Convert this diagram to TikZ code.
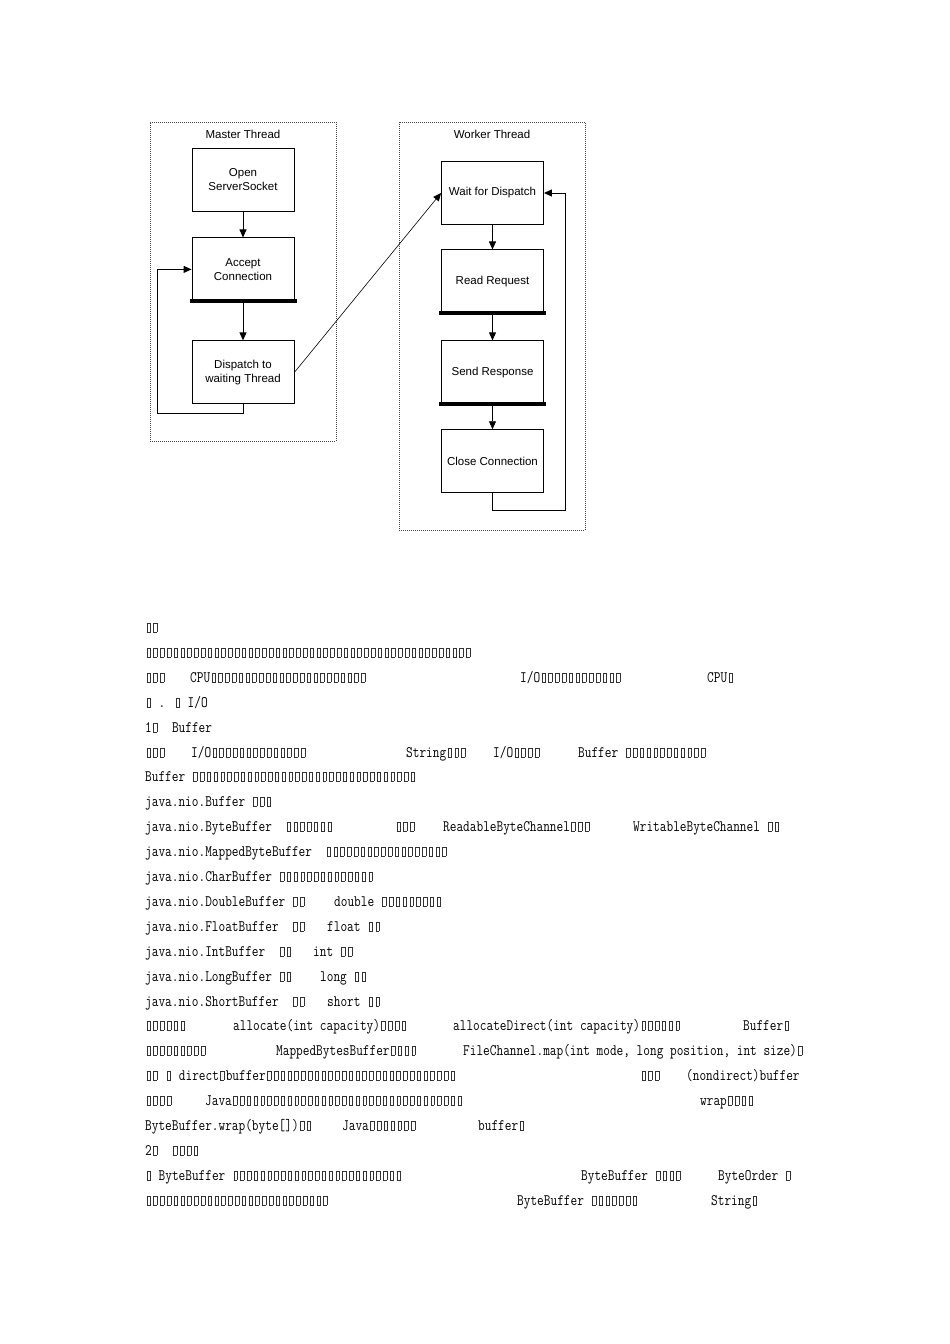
\documentclass[tikz,border=0pt]{standalone}
\usepackage{fontspec}
\setmainfont{Liberation Sans}
\newfontfamily\cnmono[FakeStretch=0.81]{Latin Modern Mono}
\usetikzlibrary{positioning,calc,arrows.meta}

% missing glyph box, one half-width cell
\newcommand\tofu{\makebox[6.8pt]{\color{black!80}\setlength{\fboxsep}{0pt}\setlength{\fboxrule}{0.45pt}\fbox{\rule{3pt}{0pt}\rule{0pt}{9pt}}}}
\newcommand\tofus[1]{\foreach \n in {1,...,#1}{\tofu}}

\begin{document}
\begin{tikzpicture}[
    x=1pt,y=-1pt,
    font=\fontsize{11.5}{14}\selectfont,
    >={Triangle[length=8pt,width=7pt]}
  ]
\useasboundingbox (0,0) rectangle (950,1344);
\def\bw{102pt}
\def\bh{63pt}

\tikzstyle{stage}=[draw,line width=0.9pt,minimum width=\bw,minimum height=\bh,align=center,inner sep=2pt,node distance=25pt];
\tikzstyle{thread}=[draw=black!75,line width=0.7pt,dash pattern=on 1pt off 1pt,minimum width=186pt];
\tikzstyle{bar}=[line width=4pt];
\tikzstyle{txt}=[anchor=base west,inner sep=0pt,font=\cnmono\fontsize{16}{16}\selectfont];

% master side
\node[thread,minimum height=319pt] (master) at (243,281.5) {};
\node (mastert) at (243,134) {Master Thread};
\node[stage] at (243,179.5) (open) {Open\\ServerSocket};
\node[stage,below=26pt of open] (accept) {Accept\\Connection};
\node[stage,below=39pt of accept] (dispatch) {Dispatch to\\waiting Thread};
\draw[bar] ($ (accept.south west) + (-2,0) $) -- ($ (accept.south east) + (3,0) $);

\draw[->,line width=0.9pt] (open) -- (accept);
\draw[->,line width=0.9pt] (accept) -- (dispatch);
\coordinate (mloop) at (157,413);
\draw[->,line width=0.9pt] (dispatch.south) |- (mloop) |- (accept.west);

% worker side
\node[thread,minimum height=408pt] (worker) at (492,326) {};
\node (workert) at (492,134) {Worker Thread};
\node[stage] at (492.5,193) (wait) {Wait for Dispatch};
\node[stage,below=24.5pt of wait] (read) {Read Request};
\node[stage,below=27pt of read] (send) {Send Response};
\node[stage,below= of send] (close) {Close Connection};
\draw[bar] ($ (read.south west) + (-2,0) $) -- ($ (read.south east) + (2,0) $);
\draw[bar] ($ (send.south west) + (-2,0) $) -- ($ (send.south east) + (2,0) $);

\draw[->,line width=0.9pt] (wait) -- (read);
\draw[->,line width=0.9pt] (read) -- (send);
\draw[->,line width=0.9pt] (send) -- (close);
\coordinate (wloop) at (565,510);
\draw[->,line width=0.9pt] (close.south) |- (wloop) |- (wait.east);

\draw[->,line width=0.6pt] (dispatch.east) -- (wait.west);

% page text
\node[txt] (l1) at (145,632) {\tofus{2}};
\node[txt] (l2) at (145,657) {\tofus{48}};
\node[txt] (l3a) at (145,682) {\tofus{3}};
\node[txt] (l3b) at (190,682) {CPU\tofus{23}};
\node[txt] (l3c) at (520,682) {I/O\tofus{12}};
\node[txt] (l3d) at (707,682) {CPU\tofu};
\node[txt] (l4) at (145,707) {\tofu{} . \tofu{} I/O};
\node[txt] (l5) at (145,732) {1\tofu{}~ Buffer};
\node[txt] (l6a) at (145,757) {\tofus{3}};
\node[txt] (l6b) at (191,757) {I/O\tofus{14}};
\node[txt] (l6c) at (406,757) {String\tofus{3}};
\node[txt] (l6d) at (493,757) {I/O\tofus{4}};
\node[txt] (l6e) at (578,757) {Buffer \tofus{12}};
\node[txt] (l7) at (145,781) {Buffer \tofus{33}};
\node[txt] (l8) at (145,806) {java.nio.Buffer \tofus{3}};
\node[txt] (l9a) at (145,831) {java.nio.ByteBuffer~ \tofus{7}};
\node[txt] (l9b) at (395,831) {\tofus{3}};
\node[txt] (l9c) at (443,831) {ReadableByteChannel\tofus{3}};
\node[txt] (l9d) at (633,831) {WritableByteChannel \tofus{2}};
\node[txt] (l10) at (145,856) {java.nio.MappedByteBuffer~ \tofus{18}};
\node[txt] (l11) at (145,881) {java.nio.CharBuffer \tofus{14}};
\node[txt] (l12a) at (145,906) {java.nio.DoubleBuffer \tofus{2}};
\node[txt] (l12b) at (334,906) {double \tofus{9}};
\node[txt] (l13a) at (145,931) {java.nio.FloatBuffer~ \tofus{2}};
\node[txt] (l13b) at (327,931) {float \tofus{2}};
\node[txt] (l14a) at (145,956) {java.nio.IntBuffer~ \tofus{2}};
\node[txt] (l14b) at (313,956) {int \tofus{2}};
\node[txt] (l15a) at (145,981) {java.nio.LongBuffer \tofus{2}};
\node[txt] (l15b) at (320,981) {long \tofus{2}};
\node[txt] (l16a) at (145,1006) {java.nio.ShortBuffer~ \tofus{2}};
\node[txt] (l16b) at (327,1006) {short \tofus{2}};
\node[txt] (l17a) at (145,1030) {\tofus{6}};
\node[txt] (l17b) at (233,1030) {allocate(int capacity)\tofus{4}};
\node[txt] (l17c) at (453,1030) {allocateDirect(int capacity)\tofus{6}};
\node[txt] (l17d) at (743,1030) {Buffer\tofu};
\node[txt] (l18a) at (145,1055) {\tofus{9}};
\node[txt] (l18b) at (276,1055) {MappedBytesBuffer\tofus{4}};
\node[txt] (l18c) at (463,1055) {FileChannel.map(int mode, long position, int size)\tofu};
\node[txt] (l19a) at (145,1080) {\tofus{2} \tofu{} direct\tofu buffer\tofus{28}};
\node[txt] (l19b) at (640,1080) {\tofus{3}};
\node[txt] (l19c) at (686,1080) {(nondirect)buffer};
\node[txt] (l20a) at (145,1105) {\tofus{4}};
\node[txt] (l20b) at (205,1105) {Java\tofus{34}};
\node[txt] (l20c) at (700,1105) {wrap\tofus{4}};
\node[txt] (l21a) at (145,1130) {ByteBuffer.wrap(byte[])\tofus{2}};
\node[txt] (l21b) at (342,1130) {Java\tofus{7}};
\node[txt] (l21c) at (478,1130) {buffer\tofu};
\node[txt] (l22) at (145,1155) {2\tofu{}~ \tofus{4}};
\node[txt] (l23a) at (145,1180) {\tofu{} ByteBuffer \tofus{25}};
\node[txt] (l23b) at (581,1180) {ByteBuffer \tofus{4}};
\node[txt] (l23c) at (718,1180) {ByteOrder \tofu};
\node[txt] (l24a) at (145,1205) {\tofus{27}};
\node[txt] (l24b) at (517,1205) {ByteBuffer \tofus{7}};
\node[txt] (l24c) at (711,1205) {String\tofu};

\end{tikzpicture}
\end{document}
